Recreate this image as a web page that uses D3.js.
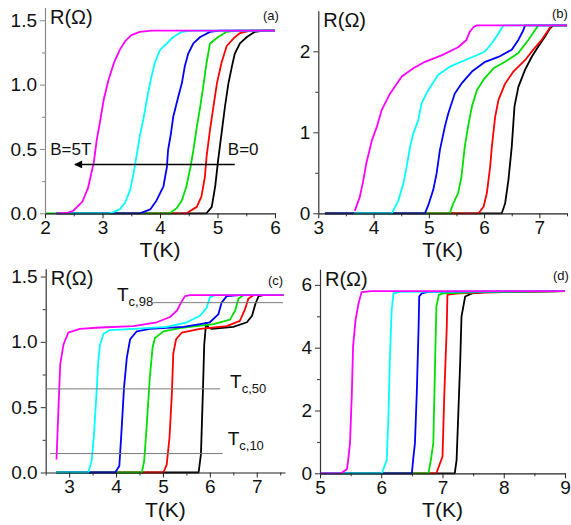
<!DOCTYPE html>
<html>
<head>
<meta charset="utf-8">
<script src="https://cdn.jsdelivr.net/npm/d3@7"></script>
<style>
  body { margin: 0; background: #fff; }
  svg { display: block; font-family: Arial, "Liberation Sans", sans-serif; }
</style>
</head>
<body>
<svg id="fig" width="571" height="525"></svg>
<script>
// Field series order: B = 0 (black) ... B = 5T (magenta)
const seriesColors = ["#000000", "#ff0000", "#00e000", "#0000ff", "#00ffff", "#ff00ff"];

// ---- Panel (a): R(T) curves, [T (K), R (Ohm)] ----
const a_black = [[2.2,0],[4.81,0],[4.90,0.05],[4.96,0.21],[5.01,0.41],[5.07,0.62],[5.13,0.83],[5.19,1.01],[5.25,1.14],[5.30,1.24],[5.39,1.32],[5.51,1.37],[5.65,1.41],[5.80,1.42],[6.0,1.42]];
const a_red = [[2.2,0],[4.46,0],[4.64,0.05],[4.72,0.13],[4.78,0.28],[4.81,0.44],[4.87,0.65],[4.93,0.83],[4.99,1.01],[5.07,1.17],[5.16,1.30],[5.28,1.36],[5.39,1.40],[5.57,1.42],[6.0,1.42]];
const a_green = [[2.0,0],[4.17,0],[4.29,0.04],[4.38,0.10],[4.46,0.21],[4.53,0.36],[4.58,0.49],[4.64,0.67],[4.70,0.83],[4.75,0.98],[4.81,1.17],[4.87,1.32],[5.01,1.37],[5.16,1.41],[5.33,1.42],[6.0,1.42]];
const a_blue = [[2.2,0],[3.65,0],[3.83,0.03],[3.94,0.10],[4.06,0.21],[4.12,0.36],[4.14,0.49],[4.19,0.62],[4.23,0.75],[4.32,0.91],[4.38,1.01],[4.43,1.14],[4.49,1.24],[4.58,1.32],[4.70,1.37],[4.87,1.41],[5.04,1.42],[6.0,1.42]];
const a_cyan = [[2.2,0],[3.13,0],[3.30,0.03],[3.39,0.08],[3.48,0.18],[3.54,0.31],[3.59,0.44],[3.65,0.60],[3.71,0.73],[3.77,0.88],[3.84,1.04],[3.91,1.17],[4.00,1.27],[4.12,1.32],[4.23,1.37],[4.38,1.41],[4.58,1.42],[6.0,1.42]];
const a_magenta = [[2.2,0],[2.40,0.005],[2.49,0.02],[2.56,0.05],[2.65,0.09],[2.75,0.20],[2.80,0.30],[2.85,0.40],[2.90,0.57],[2.96,0.72],[3.02,0.88],[3.10,1.03],[3.20,1.17],[3.30,1.27],[3.40,1.34],[3.50,1.385],[3.65,1.41],[3.85,1.42],[6.0,1.42]];

// ---- Panel (b) ----
const b_black = [[3.12,0],[6.32,0],[6.38,0.12],[6.44,0.41],[6.50,0.82],[6.55,1.32],[6.62,1.56],[6.74,1.77],[6.86,1.93],[6.98,2.06],[7.10,2.18],[7.19,2.28],[7.25,2.32],[7.5,2.32]];
const b_red = [[3.12,0],[5.90,0],[5.99,0.08],[6.05,0.25],[6.11,0.58],[6.14,0.82],[6.20,1.19],[6.26,1.40],[6.38,1.60],[6.53,1.75],[6.74,1.89],[6.89,2.02],[7.04,2.14],[7.16,2.26],[7.22,2.32],[7.5,2.32]];
const b_green = [[3.12,0],[5.38,0],[5.44,0.12],[5.53,0.25],[5.59,0.45],[5.65,0.82],[5.71,1.07],[5.78,1.32],[5.87,1.52],[5.99,1.65],[6.17,1.79],[6.38,1.87],[6.62,1.98],[6.80,2.14],[6.92,2.26],[6.98,2.32],[7.5,2.32]];
const b_blue = [[3.12,0],[4.93,0],[4.99,0.10],[5.08,0.29],[5.14,0.49],[5.20,0.78],[5.29,1.07],[5.35,1.23],[5.47,1.48],[5.59,1.60],[5.78,1.75],[6.02,1.87],[6.26,1.93],[6.50,2.02],[6.62,2.14],[6.71,2.26],[6.74,2.32],[7.5,2.32]];
const b_cyan = [[3.65,0],[4.33,0],[4.45,0.16],[4.54,0.37],[4.60,0.58],[4.66,0.82],[4.72,0.99],[4.81,1.15],[4.87,1.36],[4.99,1.52],[5.17,1.71],[5.38,1.81],[5.65,1.89],[5.90,1.96],[6.02,2.00],[6.14,2.10],[6.26,2.22],[6.35,2.32],[7.5,2.32]];
const b_magenta = [[3.66,0.03],[3.75,0.20],[3.81,0.39],[3.87,0.62],[3.97,0.90],[4.06,1.07],[4.15,1.28],[4.30,1.48],[4.51,1.69],[4.72,1.79],[4.93,1.87],[5.23,1.95],[5.53,2.05],[5.68,2.14],[5.74,2.24],[5.81,2.30],[5.87,2.32],[7.5,2.32]];

// ---- Panel (c) ----
const c_black = [[2.72,0],[5.76,0],[5.81,0.14],[5.85,0.60],[5.88,0.98],[5.92,1.145],[5.97,1.11],[6.04,1.10],[6.50,1.115],[6.79,1.15],[6.90,1.20],[6.97,1.29],[7.04,1.35],[7.14,1.357],[7.57,1.357]];
const c_red = [[2.72,0],[5.01,0],[5.08,0.06],[5.14,0.27],[5.19,0.60],[5.22,0.91],[5.28,1.02],[5.40,1.07],[5.79,1.10],[6.36,1.12],[6.64,1.16],[6.75,1.25],[6.82,1.33],[6.93,1.357],[7.57,1.357]];
const c_green = [[2.72,0],[4.55,0],[4.60,0.09],[4.65,0.34],[4.72,0.73],[4.78,0.96],[4.83,1.03],[5.01,1.08],[5.44,1.11],[6.08,1.135],[6.43,1.17],[6.54,1.24],[6.61,1.33],[6.71,1.357],[7.57,1.357]];
const c_blue = [[2.72,0],[3.98,0],[4.07,0.05],[4.12,0.34],[4.17,0.65],[4.23,0.88],[4.30,1.02],[4.44,1.08],[4.72,1.10],[5.44,1.115],[5.79,1.135],[6.00,1.15],[6.18,1.21],[6.25,1.30],[6.36,1.35],[6.64,1.357],[7.57,1.357]];
const c_cyan = [[2.72,0],[3.41,0],[3.48,0.09],[3.53,0.29],[3.59,0.65],[3.62,0.85],[3.66,0.98],[3.73,1.06],[3.87,1.09],[4.37,1.10],[5.08,1.115],[5.51,1.15],[5.79,1.20],[5.93,1.26],[6.00,1.34],[6.11,1.357],[7.57,1.357]];
const c_magenta = [[2.73,0.10],[2.77,0.47],[2.81,0.83],[2.88,0.98],[2.98,1.07],[3.23,1.10],[3.66,1.11],[4.37,1.12],[4.87,1.15],[5.15,1.19],[5.30,1.24],[5.40,1.31],[5.47,1.35],[5.58,1.357],[7.57,1.357]];

// ---- Panel (d) ----
const d_black = [[5.0,0],[7.20,0],[7.23,0.42],[7.26,2.0],[7.29,3.61],[7.31,4.99],[7.37,5.63],[7.48,5.73],[7.69,5.77],[9.0,5.80]];
const d_red = [[5.0,0],[6.90,0],[6.96,0.32],[7.00,0.53],[7.03,2.55],[7.07,4.67],[7.08,5.68],[7.12,5.70],[7.26,5.73],[8.0,5.77],[9.0,5.80]];
const d_green = [[5.0,0],[6.77,0],[6.81,0.42],[6.85,0.96],[6.88,3.61],[6.90,5.31],[6.94,5.68],[7.01,5.73],[7.6,5.77],[9.0,5.80]];
const d_blue = [[5.0,0],[6.50,0],[6.52,0.42],[6.55,0.96],[6.58,2.55],[6.61,4.67],[6.62,5.63],[6.66,5.73],[6.77,5.78],[9.0,5.80]];
const d_cyan = [[5.0,0],[6.01,0],[6.05,0.21],[6.09,0.42],[6.12,2.0],[6.14,3.61],[6.17,5.20],[6.20,5.73],[6.31,5.78],[9.0,5.80]];
const d_magenta = [[5.0,0],[5.35,0],[5.40,0.08],[5.44,0.13],[5.46,0.42],[5.49,0.96],[5.52,2.55],[5.54,4.04],[5.58,4.88],[5.63,5.42],[5.68,5.77],[5.84,5.80],[9.0,5.80]];

// Tick values
const aXTicks = [2, 3, 4, 5, 6];
const aYTicks = [0, 0.5, 1.0, 1.5];
const bXTicks = [3, 4, 5, 6, 7];
const bYTicks = [0, 1, 2];
const cXTicks = [3, 4, 5, 6, 7];
const cYTicks = [0, 0.5, 1.0, 1.5];
const dXTicks = [5, 6, 7, 8, 9];
const dYTicks = [0, 2, 4, 6];

// Transition-temperature criteria in panel (c): [label subscript, R level, T start, T end, label T, label R]
const tcLines = [
  ["c,98", 1.30, 4.79, 7.56, 4.02, 1.31],
  ["c,50", 0.64, 2.50, 6.22, 6.43, 0.645],
  ["c,10", 0.145, 2.59, 6.27, 6.38, 0.21]
];

// Field labels and arrow in panel (a): arrow from B=0 towards B=5T
const fieldArrow = [[5.30, 0.38], [2.52, 0.38]];
const fieldLabels = [["B=5T", 2.09, 0.45], ["B=0", 5.18, 0.45]];

const svg = d3.select("#fig");

// arrowhead pointing along the path direction
svg.append("defs").append("marker")
  .attr("id", "head")
  .attr("viewBox", "0 0 10 10")
  .attr("refX", 9).attr("refY", 5)
  .attr("markerWidth", 11).attr("markerHeight", 8)
  .attr("markerUnits", "userSpaceOnUse")
  .attr("orient", "auto")
  .append("path").attr("d", "M0,0 L10,5 L0,10 Z").attr("fill", "#000");

function range(a, b, s) {
  const out = [];
  for (let v = a; v <= b + 1e-9; v += s) out.push(+v.toFixed(4));
  return out;
}

const panels = [
  { tag: "(a)", series: [a_black, a_red, a_green, a_blue, a_cyan, a_magenta],
    xDomain: [2, 6], xRange: [45, 275], yDomain: [0, 1.6], yRange: [213.3, 7.4],
    xTicks: aXTicks, xMinor: range(2.5, 5.5, 1), yTicks: aYTicks, yMinor: range(0.25, 1.25, 0.5),
    yFmt: d3.format(".1f"), yAxisColor: "#8a8a8a", tagPos: [263, 20] },
  { tag: "(b)", series: [b_black, b_red, b_green, b_blue, b_cyan, b_magenta],
    xDomain: [3, 7.5], xRange: [318.3, 567], yDomain: [0, 2.5], yRange: [213.3, 10.8],
    xTicks: bXTicks, xMinor: range(3.5, 7.5, 1), yTicks: bYTicks, yMinor: [0.5, 1.5],
    yFmt: d3.format("d"), yAxisColor: "#333", tagPos: [552, 18] },
  { tag: "(c)", series: [c_black, c_red, c_green, c_blue, c_cyan, c_magenta],
    xDomain: [2.5, 7.6], xRange: [45.7, 284.9], yDomain: [0, 1.56], yRange: [472.5, 268.7],
    xTicks: cXTicks, xMinor: range(2.5, 7.5, 1), yTicks: cYTicks, yMinor: range(0.25, 1.25, 0.5),
    yFmt: d3.format(".1f"), yAxisColor: "#333", tagPos: [268, 285] },
  { tag: "(d)", series: [d_black, d_red, d_green, d_blue, d_cyan, d_magenta],
    xDomain: [5, 9], xRange: [320, 565], yDomain: [0, 6.5], yRange: [473.3, 269.2],
    xTicks: dXTicks, xMinor: range(5.5, 8.5, 1), yTicks: dYTicks, yMinor: [1, 3, 5],
    yFmt: d3.format("d"), yAxisColor: "#333", tagPos: [553, 280] }
];

function styleAxis(sel, color) {
  sel.select(".domain").attr("stroke", color).attr("stroke-width", 1.2);
  sel.selectAll(".tick line").attr("stroke", color).attr("stroke-width", 1);
  sel.selectAll("text").attr("fill", "#111").style("font-size", "19px")
    .style("font-family", "Arial, 'Liberation Sans', sans-serif");
}

panels.forEach((p, pi) => {
  const g = svg.append("g");
  const x = d3.scaleLinear().domain(p.xDomain).range(p.xRange);
  const y = d3.scaleLinear().domain(p.yDomain).range(p.yRange);
  const x0 = p.xRange[0], y0 = p.yRange[0];

  // curves, B = 0 drawn first, B = 5T last
  const line = d3.line().x(d => x(d[0])).y(d => y(d[1]));
  p.series.forEach((s, i) => {
    g.append("path").datum(s)
      .attr("d", line)
      .attr("fill", "none")
      .attr("stroke", seriesColors[i])
      .attr("stroke-width", 1.8)
      .attr("stroke-linejoin", "round");
  });

  // minor ticks
  g.append("g").attr("transform", `translate(0,${y0})`)
    .call(d3.axisBottom(x).tickValues(p.xMinor).tickSize(3).tickFormat(""))
    .call(s => { s.select(".domain").remove(); s.selectAll(".tick line").attr("stroke", "#333"); });
  g.append("g").attr("transform", `translate(${x0},0)`)
    .call(d3.axisLeft(y).tickValues(p.yMinor).tickSize(3).tickFormat(""))
    .call(s => { s.select(".domain").remove(); s.selectAll(".tick line").attr("stroke", p.yAxisColor); });

  // major axes
  g.append("g").attr("transform", `translate(0,${y0})`)
    .call(d3.axisBottom(x).tickValues(p.xTicks).tickSize(5).tickSizeOuter(0).tickPadding(2).tickFormat(d3.format("d")))
    .call(s => styleAxis(s, "#222"));
  g.append("g").attr("transform", `translate(${x0},0)`)
    .call(d3.axisLeft(y).tickValues(p.yTicks).tickSize(5).tickSizeOuter(0).tickPadding(3).tickFormat(p.yFmt))
    .call(s => styleAxis(s, p.yAxisColor));

  // axis titles
  g.append("text").attr("x", x0 + 5).attr("y", p.yRange[1] + 16.5)
    .style("font-size", "20px").attr("fill", "#111").text("R(Ω)");
  g.append("text")
    .attr("x", (p.xRange[0] + p.xRange[1]) / 2)
    .attr("y", y0 + 44)
    .attr("text-anchor", "middle")
    .style("font-size", "21px").attr("fill", "#111").text("T(K)");

  // panel tag
  g.append("text").attr("x", p.tagPos[0]).attr("y", p.tagPos[1])
    .style("font-size", "13px").attr("fill", "#111").text(p.tag);

  if (pi === 0) {
    g.append("path")
      .attr("d", d3.line().x(d => x(d[0])).y(d => y(d[1]))(fieldArrow))
      .attr("stroke", "#000").attr("stroke-width", 1.5).attr("fill", "none")
      .attr("marker-end", "url(#head)");
    fieldLabels.forEach(l => {
      g.append("text").attr("x", x(l[1])).attr("y", y(l[2]))
        .style("font-size", "17px").attr("fill", "#111").text(l[0]);
    });
  }

  if (pi === 2) {
    tcLines.forEach(t => {
      g.append("line")
        .attr("x1", x(t[2])).attr("x2", x(t[3]))
        .attr("y1", y(t[1])).attr("y2", y(t[1]))
        .attr("stroke", "#7a7a7a").attr("stroke-width", 1);
      const lab = g.append("text").attr("x", x(t[4])).attr("y", y(t[5]))
        .style("font-size", "19px").attr("fill", "#111");
      lab.append("tspan").text("T");
      lab.append("tspan").attr("dy", 5).style("font-size", "13px").text(t[0]);
    });
  }
});
</script>
</body>
</html>
